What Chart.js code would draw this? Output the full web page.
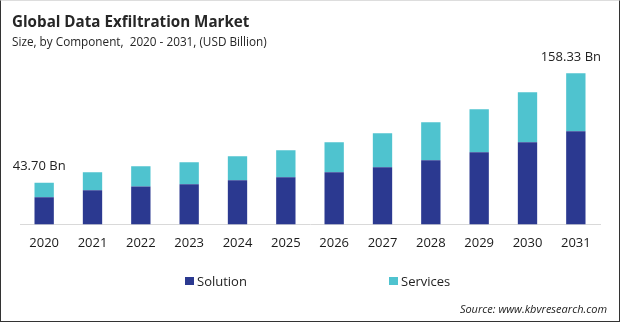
<!DOCTYPE html>
<html>
<head>
<meta charset="utf-8">
<script src="https://cdn.jsdelivr.net/npm/chart.js@4.4.0/dist/chart.umd.min.js"></script>
<style>
  html, body { margin: 0; padding: 0; background: #fff; }
  #wrap { position: relative; width: 620px; height: 322px; box-sizing: border-box;
          border-left: 1px solid #333; border-right: 1px solid #333; border-bottom: 1px solid #333; border-top: 1px solid #ddd;
          font-family: "Open Sans", sans-serif; overflow: hidden; }
  #chart { position: absolute; left: -1px; top: -1px; }
  .t { position: absolute; white-space: pre; color: #222; transform-origin: 0 0; }
  #title { left: 11px; top: 8px; font-size: 16.5px; font-weight: bold; color: #262626; transform: scaleX(0.92); }
  #sub { left: 11px; top: 32px; font-size: 12.5px; color: #262626; transform: scaleX(0.94); }
  .lg { position: absolute; top: 271px; font-size: 13px; color: #222; }
  .sw { position: absolute; width: 9px; height: 8px; top: 276px; }
  #src { position: absolute; right: 12px; top: 300px; font-size: 11px; font-style: italic; color: #222; }
</style>
</head>
<body>
<div id="wrap">
  <canvas id="chart" width="620" height="322"></canvas>
  <div id="title" class="t">Global Data Exfiltration Market</div>
  <div id="sub" class="t">Size, by Component,  2020 - 2031, (USD Billion)</div>
  <div class="sw" style="left:184px;background:#2B3990"></div>
  <div class="lg" style="left:196px">Solution</div>
  <div class="sw" style="left:388px;background:#4FC3CF"></div>
  <div class="lg" style="left:400px">Services</div>
  <div id="src">Source: www.kbvresearch.com</div>
</div>
<script>
const years = ["2020","2021","2022","2023","2024","2025","2026","2027","2028","2029","2030","2031"];
const solution = [28.3, 35.7, 39.8, 41.9, 46.1, 49.3, 54.5, 59.8, 67.1, 75.5, 86.0, 97.5];
const services = [15.4, 18.8, 21.0, 23.1, 25.2, 28.3, 31.5, 35.6, 39.9, 45.1, 52.4, 60.83];
const totalLabels = ["43.70 Bn", "", "", "", "", "", "", "", "", "", "", "158.33 Bn"];

const labelPlugin = {
  id: 'totals',
  afterDatasetsDraw(chart) {
    const ctx = chart.ctx;
    const xs = chart.scales.x, ys = chart.scales.y;
    ctx.save();
    ctx.font = '13px "Open Sans", sans-serif';
    ctx.fillStyle = '#222';
    ctx.textAlign = 'center';
    ctx.textBaseline = 'middle';
    totalLabels.forEach((lab, i) => {
      if (!lab) return;
      const total = solution[i] + services[i];
      ctx.fillText(lab, xs.getPixelForValue(i) - 5, ys.getPixelForValue(total) - 16);
    });
    ctx.restore();
  }
};

new Chart(document.getElementById('chart'), {
  type: 'bar',
  data: {
    labels: years,
    datasets: [
      { label: 'Solution', data: solution, backgroundColor: '#2B3990', barPercentage: 0.8, categoryPercentage: 0.5 },
      { label: 'Services', data: services, backgroundColor: '#4FC3CF', barPercentage: 0.8, categoryPercentage: 0.5 }
    ]
  },
  options: {
    responsive: false,
    animation: false,
    devicePixelRatio: 1,
    layout: { padding: { top: 62, left: 20, right: 20, bottom: 60 } },
    plugins: { legend: { display: false }, tooltip: { enabled: false } },
    scales: {
      x: {
        stacked: true,
        grid: { display: false, drawTicks: false },
        border: { display: true, color: '#d9d9d9', width: 1 },
        ticks: { color: '#1a1a1a', font: { family: '"Open Sans", sans-serif', size: 13 }, padding: 11, maxRotation: 0 }
      },
      y: { stacked: true, display: false, min: 0, max: 170 }
    }
  },
  plugins: [labelPlugin]
});
</script>
</body>
</html>
